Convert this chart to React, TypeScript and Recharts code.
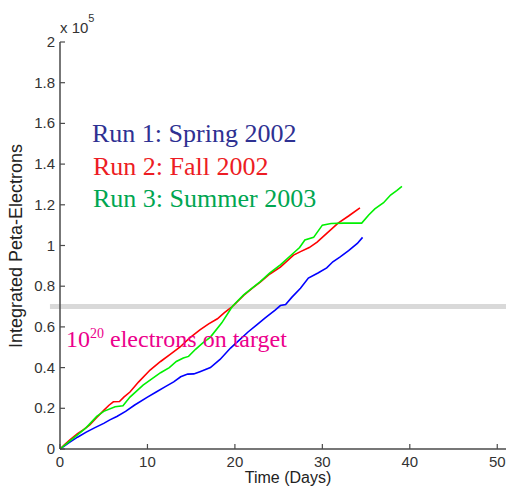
import React from "react";
import { LineChart, Line, XAxis, YAxis, ReferenceLine } from "recharts";

// ---- data (values in units of 1e5 PE) ----
const xTicks = [0, 10, 20, 30, 40, 50];
const yTicks = [0, 0.2, 0.4, 0.6, 0.8, 1, 1.2, 1.4, 1.6, 1.8, 2];
const targetLevel = 0.7;

const run1 = [
  { day: 0, pe: 0 }, { day: 1, pe: 0.03 }, { day: 2, pe: 0.058 }, { day: 3, pe: 0.083 },
  { day: 4, pe: 0.105 }, { day: 5, pe: 0.126 }, { day: 5.7, pe: 0.143 }, { day: 6.5, pe: 0.16 },
  { day: 7.5, pe: 0.185 }, { day: 8.5, pe: 0.215 }, { day: 10, pe: 0.255 }, { day: 11, pe: 0.28 },
  { day: 12, pe: 0.305 }, { day: 13, pe: 0.33 }, { day: 13.8, pe: 0.355 }, { day: 14.6, pe: 0.368 },
  { day: 15.3, pe: 0.369 }, { day: 16, pe: 0.38 }, { day: 17.2, pe: 0.4 }, { day: 18.3, pe: 0.44 },
  { day: 19.5, pe: 0.496 }, { day: 20.5, pe: 0.535 }, { day: 21.5, pe: 0.575 }, { day: 22.5, pe: 0.61 },
  { day: 23.5, pe: 0.645 }, { day: 24.6, pe: 0.683 }, { day: 25.2, pe: 0.705 }, { day: 25.8, pe: 0.71 },
  { day: 26.5, pe: 0.745 }, { day: 27.5, pe: 0.79 }, { day: 28.4, pe: 0.84 }, { day: 29.5, pe: 0.865 },
  { day: 30.5, pe: 0.89 }, { day: 31.2, pe: 0.92 }, { day: 32, pe: 0.943 }, { day: 33, pe: 0.975 },
  { day: 34, pe: 1.01 }, { day: 34.6, pe: 1.04 },
];

const run2 = [
  { day: 0, pe: 0 }, { day: 0.5, pe: 0.02 }, { day: 1.1, pe: 0.044 }, { day: 2, pe: 0.075 },
  { day: 2.7, pe: 0.095 }, { day: 3.4, pe: 0.118 }, { day: 4.2, pe: 0.155 }, { day: 5, pe: 0.19 },
  { day: 5.6, pe: 0.215 }, { day: 6.1, pe: 0.232 }, { day: 6.8, pe: 0.233 }, { day: 7.3, pe: 0.255 },
  { day: 8, pe: 0.28 }, { day: 9, pe: 0.33 }, { day: 10.3, pe: 0.388 }, { day: 11.5, pe: 0.43 },
  { day: 12.6, pe: 0.465 }, { day: 13.7, pe: 0.5 }, { day: 14.8, pe: 0.545 }, { day: 16, pe: 0.585 },
  { day: 17, pe: 0.615 }, { day: 18, pe: 0.64 }, { day: 18.8, pe: 0.67 }, { day: 19.7, pe: 0.7 },
  { day: 21, pe: 0.755 }, { day: 22, pe: 0.79 }, { day: 22.9, pe: 0.82 }, { day: 24, pe: 0.86 },
  { day: 25.2, pe: 0.894 }, { day: 26.7, pe: 0.953 }, { day: 27.5, pe: 0.97 }, { day: 28.5, pe: 0.99 },
  { day: 29.4, pe: 1.017 }, { day: 30.5, pe: 1.06 }, { day: 31.8, pe: 1.11 }, { day: 33, pe: 1.145 },
  { day: 34.3, pe: 1.185 },
];

const run3 = [
  { day: 0, pe: 0 }, { day: 1, pe: 0.035 }, { day: 2, pe: 0.07 }, { day: 3, pe: 0.105 },
  { day: 4.2, pe: 0.16 }, { day: 5, pe: 0.185 }, { day: 6.3, pe: 0.208 }, { day: 7.2, pe: 0.212 },
  { day: 8, pe: 0.255 }, { day: 9.5, pe: 0.314 }, { day: 10.5, pe: 0.345 }, { day: 11.5, pe: 0.375 },
  { day: 12.5, pe: 0.4 }, { day: 13.3, pe: 0.43 }, { day: 14.1, pe: 0.447 }, { day: 14.7, pe: 0.455 },
  { day: 15.5, pe: 0.49 }, { day: 16.3, pe: 0.52 }, { day: 17.2, pe: 0.55 }, { day: 18.5, pe: 0.62 },
  { day: 19.7, pe: 0.7 }, { day: 21, pe: 0.757 }, { day: 22.9, pe: 0.823 }, { day: 24, pe: 0.865 },
  { day: 25.2, pe: 0.905 }, { day: 26.7, pe: 0.963 }, { day: 27.4, pe: 0.99 }, { day: 28, pe: 1.027 },
  { day: 29, pe: 1.04 }, { day: 30, pe: 1.1 }, { day: 31, pe: 1.108 }, { day: 32.5, pe: 1.11 },
  { day: 33.5, pe: 1.11 }, { day: 34.5, pe: 1.11 }, { day: 35.3, pe: 1.15 }, { day: 36, pe: 1.18 },
  { day: 37, pe: 1.21 }, { day: 37.8, pe: 1.248 }, { day: 38.5, pe: 1.27 }, { day: 39.1, pe: 1.29 },
];

const AXIS = "#4a4a4a";
const TICK_FONT = "'Liberation Sans', Arial, sans-serif";
const SERIF = "'Liberation Serif', 'Times New Roman', serif";

// MATLAB-style inward ticks
function BottomTick({ x, y, payload }: any) {
  return (
    <g>
      <line x1={x} x2={x} y1={y} y2={y - 5} stroke={AXIS} strokeWidth={1.2} />
      <text x={x} y={y + 18} textAnchor="middle" fontSize={15} fill="#333" fontFamily={TICK_FONT}>
        {payload.value}
      </text>
    </g>
  );
}

function TopTick({ x, y }: any) {
  return <line x1={x} x2={x} y1={y} y2={y + 5} stroke={AXIS} strokeWidth={1.2} />;
}

function LeftTick({ x, y, payload }: any) {
  return (
    <g>
      <line x1={x} x2={x + 5} y1={y} y2={y} stroke={AXIS} strokeWidth={1.2} />
      <text x={x - 5} y={y + 5} textAnchor="end" fontSize={15} fill="#333" fontFamily={TICK_FONT}>
        {payload.value}
      </text>
    </g>
  );
}

export default function App() {
  return (
    <div style={{ position: "fixed", left: 0, top: 0, width: 506, height: 489, background: "#fff" }}>
      <LineChart width={506} height={489} margin={{ top: 42, right: 0, bottom: 0, left: 0 }}>
        <XAxis
          dataKey="day"
          type="number"
          domain={[0, 51]}
          ticks={xTicks}
          allowDataOverflow
          height={40}
          tickSize={0}
          tickMargin={0}
          axisLine={{ stroke: AXIS, strokeWidth: 1.5 }}
          tick={<BottomTick />}
        />
        <XAxis
          xAxisId="top"
          orientation="top"
          dataKey="day"
          type="number"
          domain={[0, 51]}
          ticks={xTicks}
          allowDataOverflow
          height={0}
          tickSize={0}
          tickMargin={0}
          axisLine={{ stroke: AXIS, strokeWidth: 1.5 }}
          tick={<TopTick />}
        />
        <YAxis
          type="number"
          domain={[0, 2]}
          ticks={yTicks}
          width={60}
          tickSize={0}
          tickMargin={0}
          axisLine={{ stroke: AXIS, strokeWidth: 1.5 }}
          tick={<LeftTick />}
        />
        <ReferenceLine
          segment={[{ x: -1.15, y: targetLevel }, { x: 51, y: targetLevel }]}
          stroke="#d9d9d9"
          strokeWidth={5}
          ifOverflow="visible"
        />
        <Line data={run1} dataKey="pe" stroke="#0000ff" strokeWidth={1.6} dot={false} isAnimationActive={false} />
        <Line data={run2} dataKey="pe" stroke="#ff0000" strokeWidth={1.6} dot={false} isAnimationActive={false} />
        <Line data={run3} dataKey="pe" stroke="#00f000" strokeWidth={1.6} dot={false} isAnimationActive={false} />
      </LineChart>

      <svg
        width={506}
        height={489}
        style={{ position: "absolute", left: 0, top: 0, pointerEvents: "none" }}
      >
        <text x={60} y={33} fontSize={15} fill="#333" fontFamily={TICK_FONT}>
          x 10
          <tspan fontSize={11} dy={-11}>5</tspan>
        </text>
        <text
          x={22}
          y={246}
          transform="rotate(-90 22 246)"
          textAnchor="middle"
          fontSize={18}
          fill="#222"
          fontFamily={TICK_FONT}
        >
          Integrated Peta-Electrons
        </text>
        <text x={288} y={483} textAnchor="middle" fontSize={16} fill="#222" fontFamily={TICK_FONT}>
          Time (Days)
        </text>
        <text x={92} y={142} fontSize={26} fill="#2e3192" fontFamily={SERIF}>Run 1: Spring 2002</text>
        <text x={93} y={175} fontSize={26} fill="#ed1c24" fontFamily={SERIF}>Run 2: Fall 2002</text>
        <text x={93} y={207} fontSize={26} fill="#00a651" fontFamily={SERIF}>Run 3: Summer 2003</text>
        <text x={66} y={347} fontSize={24} fill="#ec008c" fontFamily={SERIF}>
          10
          <tspan fontSize={14} dy={-9}>20</tspan>
          <tspan dy={9}> electrons on target</tspan>
        </text>
      </svg>
    </div>
  );
}
